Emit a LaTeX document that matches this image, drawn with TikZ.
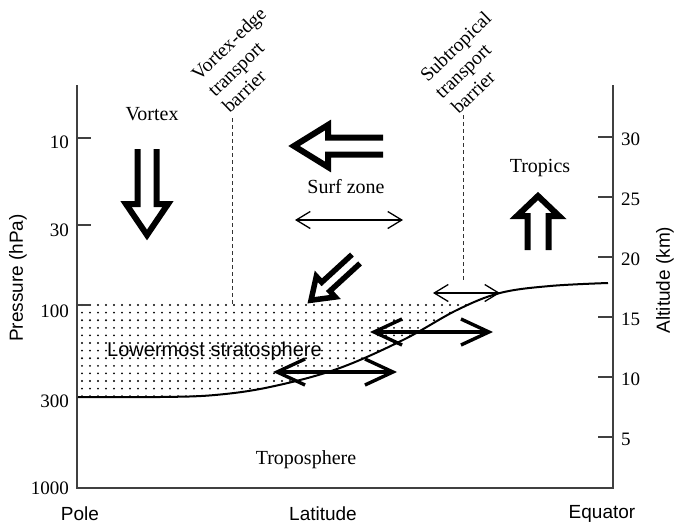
\documentclass[tikz,border=0pt]{standalone}
\usepackage{fontspec}
\setmainfont{Liberation Serif}
\setsansfont{Liberation Sans}
\usetikzlibrary{arrows.meta}
\newcommand\fatarrow[9][]{%
  \begin{scope}[shift={(#2,#3)},rotate=#4]
    \draw[fatline,line width=#9pt] (0,#8) -- ({#5-#6},#8) -- ({#5-#6},#7) -- (#5,0) -- ({#5-#6},-#7) -- ({#5-#6},-#8) -- (0,-#8);
  \end{scope}}
\begin{document}
\begin{tikzpicture}[x=1pt,y=-1pt,
  axisline/.style={line width=1.4pt,draw=black!75},
  tickline/.style={line width=1.2pt,draw=black!75},
  fatline/.style={line join=miter,miter limit=20,line cap=butt,draw=black},
  barrier/.style={line width=1pt,dash pattern=on 4pt off 3pt,draw=black!80},
  serif/.style={font=\fontsize{20}{22}\selectfont},
  sans/.style={font=\sffamily\fontsize{19}{21}\selectfont},
  ticklab/.style={font=\fontsize{19}{21}\selectfont,inner sep=0pt},
  rotlab/.style={font=\fontsize{19.5}{20}\selectfont,rotate=44,inner sep=0pt},
  thinarrow/.style={line width=1.3pt,{Straight Barb[length=14pt,width=17pt]}-{Straight Barb[length=14pt,width=17pt]}},
  thickarrow/.style={line width=3.4pt,{Straight Barb[length=28pt,width=26pt]}-{Straight Barb[length=28pt,width=26pt]}}]
\useasboundingbox (0,0) rectangle (686,525);

% dotted lowermost stratosphere
\begin{scope}
  \clip (78,300) rectangle (472,400);
  \clip plot[smooth,tension=0.6] coordinates {(78,397) (160,397) (215,395) (270,387) (337,369) (403,340) (457,310) (500,293) (550,286) (608,283)} -- (608,300) -- (78,300) -- cycle;
  \foreach \i in {0,...,49}{\foreach \j in {0,...,12}{\fill[black] ({82+8*\i},{305+7.6*\j}) circle (1.05);}}
\end{scope}

% axes
\coordinate (lt) at (77,85);
\coordinate (lb) at (77,488);
\coordinate (rb) at (613,488);
\coordinate (rt) at (613,85);
\draw[axisline] (lt) -- (lb) -- (rb) -- (rt);

% left ticks and labels
\foreach \yy in {138,225,305}{\draw[tickline] (77,\yy) -- (91,\yy);}
\foreach \yy/\lab [count=\k] in {142/10,230/30,311/100,401/300,488/1000}{\node[ticklab,anchor=east] (pl\k) at (69,\yy) {\lab};}
% right ticks and labels
\foreach \yy/\lab [count=\k] in {137/30,197/25,257/20,317/15,377/10,437/5}{
  \draw[tickline] (598,\yy) -- (613,\yy);
  \node[ticklab,anchor=west] (al\k) at (621,{\yy+2}) {\lab};}

% tropopause curve
\draw[line width=2pt] plot[smooth,tension=0.6] coordinates {(78,397) (160,397) (215,395) (270,387) (337,369) (403,340) (457,310) (500,293) (550,286) (608,283)};

% barriers
\coordinate (vb1) at (232,118);
\coordinate (vb2) at (232,305);
\coordinate (sb1) at (463,115);
\coordinate (sb2) at (463,281);
\draw[barrier] (vb1) -- (vb2);
\draw[barrier] (sb1) -- (sb2);
\node[rotlab] (vbl1) at (230,45) {Vortex-edge};
\node[rotlab] (vbl2) at (238,71) {transport};
\node[rotlab] (vbl3) at (244,91) {barrier};
\node[rotlab] (sbl1) at (457,48) {Subtropical};
\node[rotlab] (sbl2) at (465,73) {transport};
\node[rotlab] (sbl3) at (473,92) {barrier};

% fat arrows
\fatarrow{147}{149}{-90}{86}{31}{21}{9.5}{6}
\fatarrow{383}{146}{180}{89}{34}{21}{8.5}{6}
\fatarrow{538}{250}{90}{54}{20}{21}{10.5}{6}
\fatarrow{356}{259}{222.5}{61}{20}{14}{6}{5.5}

% thin double arrows
\coordinate (sz1) at (295,220);
\coordinate (sz2) at (403,220);
\coordinate (st1) at (433,293);
\coordinate (st2) at (500,293);
\draw[thinarrow] (sz1) -- (sz2);
\draw[thinarrow] (st1) -- (st2);
% thick double arrows
\coordinate (ta1) at (370,332);
\coordinate (ta2) at (493,332);
\coordinate (tb1) at (273,372);
\coordinate (tb2) at (397,372);
\draw[thickarrow] (ta1) -- (ta2);
\draw[thickarrow] (tb1) -- (tb2);

% labels
\node[serif] (vortex) at (152,114) {Vortex};
\node[serif] (surf) at (346,187) {Surf zone};
\node[serif] (tropics) at (540,168) {Tropics};
\node[serif] (tropo) at (306,460) {Troposphere};
\node[sans,anchor=base west,inner sep=0pt,font=\sffamily\fontsize{20}{22}\selectfont] (lms) at (107,356) {Lowermost stratosphere};
\node[sans,rotate=90] (pres) at (18,278) {Pressure (hPa)};
\node[sans,rotate=90] (alt) at (665,280) {Altitude (km)};
\node[sans] (pole) at (80,514) {Pole};
\node[sans] (lat) at (323,514) {Latitude};
\node[sans] (eq) at (602,514) {Equator};
\end{tikzpicture}
\end{document}
